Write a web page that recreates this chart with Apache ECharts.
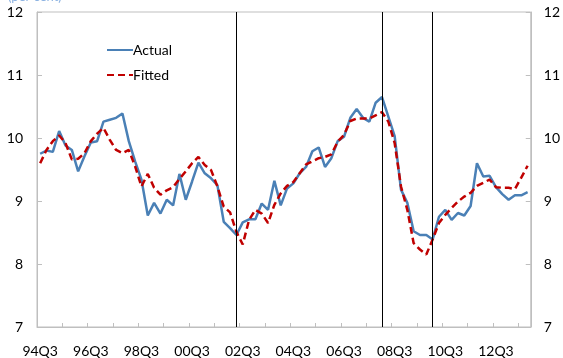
<!DOCTYPE html>
<html>
<head>
<meta charset="utf-8">
<script src="https://cdn.jsdelivr.net/npm/echarts@6/dist/echarts.min.js"></script>
<style>
  html, body { margin: 0; padding: 0; background: #fff; }
  #chart { width: 563px; height: 358px; }
</style>
</head>
<body>
<div id="chart"></div>
<script>
// Quarterly periods, 1994 Q3 to 2013 Q4
const firstYear = 1994, firstQuarter = 3, periodCount = 78;
const quarters = [];
for (let i = 0; i < periodCount; i++) {
  const n = (firstQuarter - 1) + i;
  const yy = (firstYear + Math.floor(n / 4)) % 100;
  quarters.push(String(yy).padStart(2, '0') + 'Q' + (n % 4 + 1));
}

const actual = [
  9.75, 9.80, 9.78, 10.11, 9.88, 9.81, 9.47, 9.71, 9.93, 9.95,
  10.26, 10.29, 10.32, 10.39, 9.95, 9.63, 9.34, 8.77, 8.97, 8.80,
  9.02, 8.93, 9.43, 9.02, 9.31, 9.61, 9.44, 9.36, 9.25, 8.67,
  8.57, 8.46, 8.66, 8.71, 8.71, 8.96, 8.86, 9.32, 8.93, 9.20,
  9.28, 9.44, 9.54, 9.79, 9.85, 9.54, 9.68, 9.95, 10.02, 10.32,
  10.46, 10.32, 10.26, 10.56, 10.65, 10.34, 10.03, 9.18, 8.97, 8.52,
  8.46, 8.46, 8.39, 8.75, 8.86, 8.70, 8.81, 8.77, 8.92, 9.60,
  9.39, 9.40, 9.22, 9.11, 9.02, 9.09, 9.09, 9.14
];

const fitted = [
  9.60, 9.81, 9.95, 10.04, 9.92, 9.66, 9.67, 9.76, 9.95, 10.07,
  10.16, 9.97, 9.81, 9.76, 9.81, 9.55, 9.23, 9.43, 9.21, 9.10,
  9.17, 9.22, 9.35, 9.47, 9.60, 9.70, 9.57, 9.49, 9.23, 8.91,
  8.82, 8.51, 8.31, 8.70, 8.86, 8.80, 8.65, 8.94, 9.12, 9.24,
  9.30, 9.44, 9.58, 9.63, 9.68, 9.70, 9.74, 9.94, 10.05, 10.27,
  10.31, 10.31, 10.31, 10.36, 10.41, 10.26, 9.92, 9.23, 8.86, 8.33,
  8.23, 8.15, 8.39, 8.65, 8.78, 8.89, 8.99, 9.07, 9.13, 9.24,
  9.29, 9.34, 9.22, 9.21, 9.21, 9.19, 9.37, 9.56
];

// Period markers drawn as vertical rules
const breakPeriods = ['02Q2', '08Q1', '10Q1'];

const yMin = 7, yMax = 12, yStep = 1;

const font = 'Lato, "Open Sans", sans-serif';
const axisGrey = '#bfbfbf';

const valueAxis = (pos) => ({
  type: 'value',
  position: pos,
  min: yMin, max: yMax, interval: yStep,
  splitLine: { show: false },
  axisLine: { show: true, lineStyle: { color: axisGrey } },
  axisTick: { show: true, inside: true, length: 5, lineStyle: { color: axisGrey } },
  axisLabel: { color: '#000', fontFamily: font, fontSize: 14, margin: pos === 'left' ? 14 : 13 }
});

const chart = echarts.init(document.getElementById('chart'), null, { renderer: 'canvas' });
chart.setOption({
  animation: false,
  backgroundColor: '#fff',
  grid: {
    left: 37, right: 26, top: 12, bottom: 31,
    show: true, borderColor: axisGrey, borderWidth: 1, backgroundColor: 'transparent'
  },
  graphic: [{
    type: 'text', left: 8, top: -10,
    style: { text: '(per cent)', fill: '#8db3e2', font: '13px ' + font }
  }],
  legend: {
    orient: 'vertical', left: 101, top: 38,
    itemWidth: 26, itemHeight: 10, itemGap: 11,
    itemStyle: { opacity: 0 },
    textStyle: { color: '#000', fontFamily: font, fontSize: 14, padding: [0, 0, 0, -5] },
    data: ['Actual', 'Fitted']
  },
  xAxis: {
    type: 'category',
    data: quarters,
    boundaryGap: true,
    axisLine: { show: true, lineStyle: { color: axisGrey } },
    axisTick: { show: true, inside: true, length: 4, interval: 3, lineStyle: { color: axisGrey } },
    axisLabel: { interval: 7, color: '#000', fontFamily: font, fontSize: 14, margin: 17 },
    splitLine: { show: false }
  },
  yAxis: [valueAxis('left'), valueAxis('right')],
  series: [
    {
      name: 'Actual', type: 'line', data: actual,
      showSymbol: false, symbol: 'none',
      lineStyle: { color: '#4a80b6', width: 2.5 },
      itemStyle: { color: '#4a80b6' },
      z: 3,
      markLine: {
        silent: true, symbol: 'none', label: { show: false },
        lineStyle: { color: '#000', width: 1, type: 'solid' },
        data: breakPeriods.map(p => ({ xAxis: p }))
      }
    },
    {
      name: 'Fitted', type: 'line', data: fitted,
      showSymbol: false, symbol: 'none',
      lineStyle: { color: '#c00000', width: 2.5, type: [7, 4] },
      itemStyle: { color: '#c00000' },
      z: 4
    }
  ]
});
</script>
</body>
</html>
